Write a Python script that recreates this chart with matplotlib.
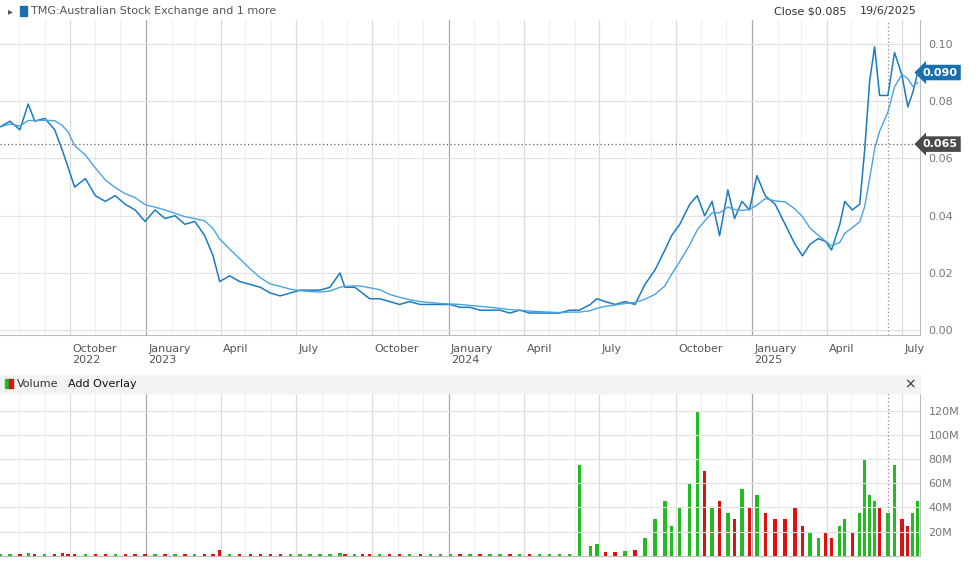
import matplotlib
matplotlib.use("Agg")
import matplotlib.pyplot as plt
import numpy as np
import pandas as pd

# pozycje punktow (px na oryginale) -> dni od 2022-07-09
pozycje_px = [0, 10, 20, 28, 35, 45, 55, 62, 68, 75, 85, 95, 105, 115, 125, 135, 145, 155, 165, 175,
              185, 195, 205, 213, 220, 230, 240, 250, 260, 270, 280, 290, 300, 310, 320, 330, 340, 345,
              355, 362, 370, 380, 390, 400, 410, 420, 430, 440, 450, 460, 470, 480, 490, 500, 510, 520,
              530, 540, 550, 560, 570, 580, 590, 597, 605, 615, 625, 635, 645, 655, 665, 672, 680, 690,
              697, 705, 712, 720, 728, 735, 742, 750, 757, 765, 775, 785, 795, 803, 810, 818, 826, 832,
              840, 845, 852, 860, 865, 870, 875, 880, 888, 895, 902, 908, 913, 918]
ceny = [0.071, 0.073, 0.070, 0.079, 0.073, 0.074, 0.070, 0.063, 0.057, 0.050, 0.053, 0.047, 0.045,
        0.047, 0.044, 0.042, 0.038, 0.042, 0.039, 0.040, 0.037, 0.038, 0.033, 0.026, 0.017, 0.019,
        0.017, 0.016, 0.015, 0.013, 0.012, 0.013, 0.014, 0.014, 0.014, 0.015, 0.020, 0.015, 0.015,
        0.013, 0.011, 0.011, 0.010, 0.009, 0.010, 0.009, 0.009, 0.009, 0.009, 0.008, 0.008, 0.007,
        0.007, 0.007, 0.006, 0.007, 0.006, 0.006, 0.006, 0.006, 0.007, 0.007, 0.009, 0.011, 0.010,
        0.009, 0.010, 0.009, 0.016, 0.021, 0.028, 0.033, 0.037, 0.044, 0.047, 0.040, 0.045, 0.033,
        0.049, 0.039, 0.045, 0.042, 0.054, 0.047, 0.044, 0.037, 0.030, 0.026, 0.030, 0.032, 0.031,
        0.028, 0.037, 0.045, 0.042, 0.044, 0.063, 0.087, 0.099, 0.082, 0.082, 0.097, 0.089, 0.078,
        0.083, 0.090]
wolumen_mln = [1, 1, 1, 2, 1, 1, 1, 2, 1, 1, 1, 1, 1, 1, 1, 1, 1, 1, 1, 1,
               1, 1, 1, 1, 5, 1, 1, 1, 1, 1, 1, 1, 1, 1, 1, 1, 2, 1,
               1, 1, 1, 1, 1, 1, 1, 1, 1, 1, 1, 1, 1, 1, 1, 1, 1, 1,
               1, 1, 1, 1, 1, 75, 8, 10, 3, 3, 4, 5, 15, 30, 45, 25, 40, 60,
               120, 70, 40, 45, 35, 30, 55, 40, 50, 35, 30, 30, 40, 25, 20, 15, 20, 15,
               25, 30, 20, 35, 80, 50, 45, 40, 35, 75, 30, 25, 35, 45]

start = pd.Timestamp("2022-07-09")
daty = [start + pd.Timedelta(days=round(p * 1.206)) for p in pozycje_px]
srednia = pd.Series(ceny).rolling(6, min_periods=1).mean()
kolory_wol = ["#22bb22" if i == 0 or ceny[i] >= ceny[i - 1] else "#dd1111" for i in range(len(ceny))]

x_min = start
x_max = start + pd.Timedelta(days=round(920 * 1.206))
kwartaly = pd.date_range("2022-10-01", "2025-07-01", freq="QS")
miesiace = pd.date_range("2022-08-01", "2025-07-01", freq="MS")

y_min, y_max = -0.0017, 0.1084

fig = plt.figure(figsize=(9.8, 5.67), dpi=100)
ax = fig.add_axes([0.0, 0.409, 0.939, 0.556])
axv = fig.add_axes([0.0, 0.02, 0.939, 0.287])

for a in (ax, axv):
    a.set_xlim(x_min, x_max)
    for m in miesiace:
        if m not in kwartaly:
            a.axvline(m, color="#efefef", lw=0.7, zorder=0)
    for k in kwartaly:
        a.axvline(k, color="#a8a8a8" if k.month == 1 else "#dadada", lw=0.9, zorder=0)
    a.axvline(start + pd.Timedelta(days=round(888 * 1.206)), color="#888888", lw=0.9, ls=(0, (1, 2)))
    a.yaxis.tick_right()
    a.tick_params(axis="y", length=0, labelsize=8, labelcolor="#777777", pad=6)
    for s in ["top", "left"]:
        a.spines[s].set_visible(False)
    a.spines["right"].set_color("#bbbbbb")
    a.spines["bottom"].set_color("#bbbbbb")

ax.plot(daty, ceny, color="#1a7bbf", lw=1.1)
ax.plot(daty, srednia, color="#4aa3e0", lw=1.0)
ax.set_ylim(y_min, y_max)
ax.set_yticks(np.arange(0, 0.101, 0.02))
ax.set_yticklabels(["%.2f" % v for v in np.arange(0, 0.101, 0.02)])
ax.grid(axis="y", color="#e2e2e2", lw=0.8)
ax.axhline(0.065, color="#666666", lw=0.9, ls=(0, (1, 2)))
ax.set_xticks([])
for k in kwartaly:
    etykieta = k.strftime("%B")
    if k.month == 1 or k == kwartaly[0]:
        etykieta += "\n" + str(k.year)
    ax.text(k + pd.Timedelta(days=3), y_min - 0.003, etykieta, fontsize=8, color="#555555",
            va="top", ha="left")
for wartosc, kolor in [(0.090, "#1a6fae"), (0.065, "#4a4a4a")]:
    ax.text(1.003, (wartosc - y_min) / (y_max - y_min), "%.3f" % wartosc, transform=ax.transAxes,
            fontsize=8, color="white", weight="bold", va="center",
            bbox=dict(boxstyle="larrow,pad=0.25", fc=kolor, ec="none"))

axv.bar(daty, wolumen_mln, width=4, color=kolory_wol)
axv.set_ylim(0, 135)
axv.set_yticks(range(20, 121, 20))
axv.set_yticklabels(["%dM" % v for v in range(20, 121, 20)])
axv.grid(axis="y", color="#e2e2e2", lw=0.8)
axv.set_xticks([])

# naglowki
fig.text(0.008, 0.98, "\u25B8", fontsize=7, color="#555555", va="center")
fig.patches.append(plt.Rectangle((0.02, 0.972), 0.008, 0.017, transform=fig.transFigure, color="#1a6fae"))
fig.text(0.032, 0.98, "TMG:Australian Stock Exchange and 1 more", fontsize=8, color="#555555", va="center")
fig.text(0.79, 0.98, "Close $0.085", fontsize=8, color="#333333", va="center")
fig.text(0.877, 0.98, "19/6/2025", fontsize=8, color="#333333", va="center")
fig.patches.append(plt.Rectangle((0.0, 0.307), 0.939, 0.031, transform=fig.transFigure, color="#f2f2f2"))
fig.patches.append(plt.Rectangle((0.005, 0.315), 0.004, 0.016, transform=fig.transFigure, color="#22bb22"))
fig.patches.append(plt.Rectangle((0.009, 0.315), 0.004, 0.016, transform=fig.transFigure, color="#dd1111"))
fig.text(0.017, 0.322, "Volume", fontsize=8, color="#333333", va="center")
fig.text(0.069, 0.322, "Add Overlay", fontsize=8, color="#111111", va="center")
fig.text(0.923, 0.322, "\u00D7", fontsize=10, color="#333333", va="center")

plt.savefig("out.png", dpi=100)
